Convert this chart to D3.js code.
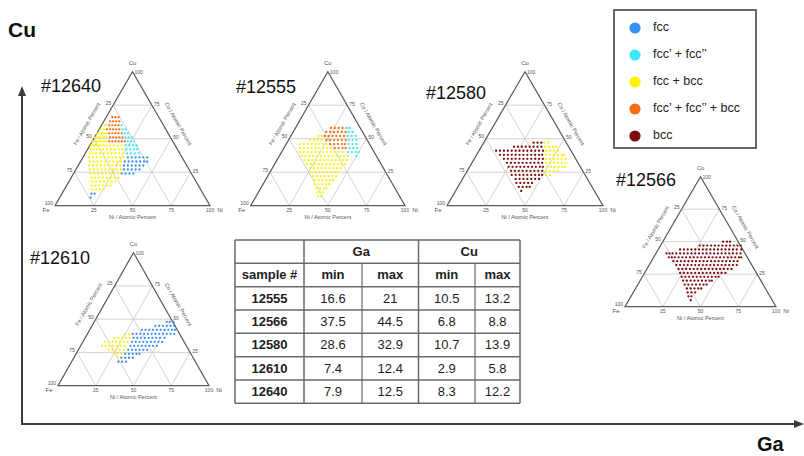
<!DOCTYPE html>
<html><head><meta charset="utf-8">
<script src="https://cdn.jsdelivr.net/npm/d3@7"></script>
<style>body{margin:0;background:#fff;} svg{display:block;font-family:"Liberation Sans",Arial,sans-serif;}</style>
</head><body><svg id="c" width="804" height="456"></svg>
<script>
// ---------------- data ----------------
const phaseNames = ["fcc", "fcc’ + fcc’’", "fcc + bcc", "fcc’ + fcc’’ + bcc", "bcc"];
const phaseColors = ["#3b8ff2", "#3ce6f4", "#fbf30c", "#fb6b14", "#7e0d0d"];

const tableSamples = ["12555", "12566", "12580", "12610", "12640"];
const gaMin = [16.6, 37.5, 28.6, 7.4, 7.9];
const gaMax = [21, 44.5, 32.9, 12.4, 12.5];
const cuMin = [10.5, 6.8, 10.7, 2.9, 8.3];
const cuMax = [13.2, 8.8, 13.9, 5.8, 12.2];

const ternaryTicks = [25, 50, 75, 100];

// dot rows: [phase index, Co %, [Ni % ...]]
const dots12640 = [
  [3, 66, [4, 6, 8]],
  [3, 63, [4, 6, 8, 10]],
  [2, 60, [2, 3]], [3, 60, [5, 7, 9, 11]], [1, 60, [13]],
  [2, 57, [1, 3]], [3, 57, [5, 7, 9, 11, 13]], [1, 57, [15, 17]],
  [2, 54, [0, 1.5, 3, 4.5, 6]], [3, 54, [8, 10, 12, 14, 16]], [1, 54, [18, 20]],
  [2, 51, [0, 1.5, 3, 4.5, 6, 7.5]], [3, 51, [10, 12, 14, 16, 18]], [1, 51, [20, 22, 24]],
  [2, 48, [0, 1.5, 3, 4.5, 6, 7.5, 9]], [3, 48, [11, 13, 15, 17, 19, 21]], [1, 48, [23, 25, 27]],
  [2, 45, [1, 2.5, 4, 5.5, 7, 9, 11, 13, 15.5, 18, 20.5]], [1, 45, [23, 25.5, 28, 30]],
  [2, 42, [2, 4, 6, 8, 10, 12.5, 15, 17.5, 20, 22.5]], [1, 42, [25, 27.5, 30, 32]],
  [2, 39, [3, 5, 7, 9.5, 12, 14.5, 17, 19.5, 22, 24.5]], [1, 39, [27, 29.5, 32, 34.5]],
  [2, 36, [4, 6.5, 9, 11.5, 14, 16.5, 19, 21.5, 24, 26.5]], [0, 36, [29, 31.5, 34, 36.5, 39, 41.5]],
  [2, 33, [6, 8.5, 11, 13.5, 16, 18.5, 21, 23.5, 26]], [0, 33, [28.5, 31, 33.5, 36, 38.5, 41, 43]],
  [2, 30, [7, 9.5, 12, 14.5, 17, 19.5, 22, 24.5, 27]], [0, 30, [29.5, 32, 34.5, 37, 39.5, 42]],
  [2, 27, [9, 11.5, 14, 16.5, 19, 21.5, 24, 26.5, 29]], [0, 27, [31, 33.5, 36, 38.5, 41]],
  [2, 24, [11, 13.5, 16, 18.5, 21, 23.5, 26, 28.5]], [0, 24, [31, 33.5, 36, 38.5]],
  [2, 21, [13, 15.5, 18, 20.5, 23, 25.5, 28, 30.5]],
  [2, 18, [15, 17.5, 20, 22.5, 25, 27.5, 30]],
  [2, 15, [16, 18.5, 21, 23.5, 26, 28.5]],
  [2, 12, [18, 20.5, 23, 25.5]],
  [0, 9, [19, 21]],
  [0, 6, [20]]
];

const dots12555 = [
  [3, 58, [23, 25.5, 28, 30.5]], [1, 58, [33, 35]],
  [3, 55, [21.5, 24, 26.5, 29, 31.5, 34]], [1, 55, [36, 38.5]],
  [2, 52, [18, 20]], [3, 52, [22, 24.5, 27, 29.5, 32, 34.5]], [1, 52, [37, 39.5, 42]],
  [2, 49, [14, 16.5, 19, 21.5]], [3, 49, [24.5, 27, 29.5, 32, 34.5, 37]], [1, 49, [39, 41.5, 44]],
  [2, 46, [9, 11.5, 14, 16.5, 19, 21.5, 24, 26]], [3, 46, [28.5, 31, 33.5, 36, 38]], [1, 46, [40.5, 43, 45.5]],
  [2, 43, [10.5, 13, 15.5, 18, 20.5, 23, 25.5, 28, 30.5]], [3, 43, [33, 35.5, 38, 40]], [1, 43, [42.5, 45, 47.5]],
  [2, 40, [12, 14.5, 17, 19.5, 22, 24.5, 27, 29.5, 32, 34.5, 37, 39.5]], [1, 40, [43, 45.5, 48, 50]],
  [2, 37, [14.5, 17, 19.5, 22, 24.5, 27, 29.5, 32, 34.5, 37, 39.5, 42, 44.5]], [1, 37, [50]],
  [2, 34, [18, 20.5, 23, 25.5, 28, 30.5, 33, 35.5, 38, 40.5, 43, 45]],
  [2, 31, [21, 23.5, 26, 28.5, 31, 33.5, 36, 38.5, 41, 43.5, 45.5]],
  [2, 28, [24.5, 27, 29.5, 32, 34.5, 37, 39.5, 42, 44.5]],
  [2, 25, [27, 29.5, 32, 34.5, 37, 39.5, 42, 44]],
  [2, 22, [29.5, 32, 34.5, 37, 39.5, 42, 44.5]],
  [2, 19, [32, 34.5, 37, 39.5, 42, 44]],
  [2, 16, [33.5, 36, 38.5, 41, 43]],
  [2, 13, [36, 38.5, 41, 42.5]],
  [2, 10, [38, 40, 42]],
  [2, 7, [40, 42]]
];

const dots12580 = [
  [4, 47, [32, 34.5, 37]], [2, 47, [39, 41.5]],
  [4, 44, [21, 23.5, 26, 28.5, 31, 33.5, 36, 38.5]], [2, 44, [41, 43.5, 46, 48]],
  [4, 41, [11, 13.5, 16, 18.5, 21, 23.5, 26, 28.5, 31, 33.5, 36, 38.5, 41]], [2, 41, [43, 45.5, 48, 50.5]],
  [4, 38, [15, 17.5, 20, 22.5, 25, 27.5, 30, 32.5, 35, 37.5, 40, 42]], [2, 38, [44.5, 47, 49.5, 52, 54.5, 56]],
  [4, 35, [19, 21.5, 24, 26.5, 29, 31.5, 34, 36.5, 39, 41.5, 44]], [2, 35, [46, 48.5, 51, 53.5, 56, 58.5]],
  [4, 32, [22.5, 25, 27.5, 30, 32.5, 35, 37.5, 40, 42.5, 45]], [2, 32, [47.5, 50, 52.5, 55, 57.5, 60]],
  [4, 29, [25, 27.5, 30, 32.5, 35, 37.5, 40, 42.5, 45, 47]], [2, 29, [49.5, 52, 54.5, 57, 59.5, 61]],
  [4, 26, [28, 30.5, 33, 35.5, 38, 40.5, 43, 45.5, 48]], [2, 26, [50.5, 53, 55.5, 58]],
  [4, 23, [30, 32.5, 35, 37.5, 40, 42.5, 45, 47.5, 49.5]], [2, 23, [52, 54.5]],
  [4, 20, [34, 36.5, 39, 41.5, 44, 46.5, 49]],
  [4, 17, [36, 38.5, 41, 43.5, 46]],
  [4, 14, [39, 41.5, 44, 46]],
  [4, 11, [42]]
];

const dots12566 = [
  [4, 50, [40, 42.5, 44.5]],
  [4, 47, [26, 28.5, 31, 33.5, 36, 38.5, 41, 43.5, 46, 48.5, 51, 53]],
  [4, 44, [14.5, 17, 19.5, 22, 24.5, 27, 29.5, 32, 34.5, 37, 39.5, 42, 44.5, 47, 49.5, 52, 55]],
  [4, 41, [7, 9, 11, 13.5, 16, 18.5, 21, 23.5, 26, 28.5, 31, 33.5, 36, 38.5, 41, 43.5, 46, 48.5, 51, 53.5, 56]],
  [4, 38, [10, 12, 14, 16.5, 19, 21.5, 24, 26.5, 29, 31.5, 34, 36.5, 39, 41.5, 44, 46.5, 49, 51.5, 54, 56.5, 58]],
  [4, 35, [14.5, 17, 19.5, 22, 24.5, 27, 29.5, 32, 34.5, 37, 39.5, 42, 44.5, 47, 49.5, 52, 54.5, 57]],
  [4, 32, [18, 20.5, 23, 25.5, 28, 30.5, 33, 35.5, 38, 40.5, 43, 45.5, 48, 50.5, 53, 55.5, 58]],
  [4, 29, [21, 23.5, 26, 28.5, 31, 33.5, 36, 38.5, 41, 43.5, 46, 48.5, 51, 53.5, 56]],
  [4, 26, [23.5, 26, 28.5, 31, 33.5, 36, 38.5, 41, 43.5, 46, 48.5, 51, 53.5]],
  [4, 23, [26, 28.5, 31, 33.5, 36, 38.5, 41, 43.5, 46, 48.5, 50.5]],
  [4, 20, [28.5, 31, 33.5, 36, 38.5, 41, 43.5, 46, 47.5]],
  [4, 17, [31, 33.5, 36, 38.5, 41, 43.5, 45.5]],
  [4, 14, [34, 36.5, 39, 41.5, 43.5]],
  [4, 11, [36, 38.5, 41]],
  [4, 8, [38, 40]],
  [4, 5, [41]]
];

const dots12610 = [
  [0, 48, [48, 50, 52.5]],
  [0, 45, [42, 44.5, 47, 49.5, 52, 54.5]],
  [0, 42, [34.5, 37, 39.5, 42, 44.5, 47, 49.5, 52, 54.5, 56.5]],
  [2, 39, [25, 27.5]], [0, 39, [30, 32.5, 35, 37.5, 40, 42.5, 45, 47.5, 50, 52.5, 55, 57.5]],
  [2, 36, [19.5, 22, 24.5, 27, 29.5]], [0, 36, [32, 34.5, 37, 39.5, 42, 44.5, 47, 49.5, 52.5]],
  [2, 33, [14.5, 17, 19.5, 22, 24.5, 27, 29.5]], [0, 33, [32.5, 35, 37.5, 40, 42.5, 45, 47.5, 50, 52.5]],
  [2, 30, [14, 16.5, 19, 21.5, 24, 26.5, 29]], [0, 30, [33, 35.5, 38, 40.5, 43, 45.5, 48, 50.5]],
  [2, 27, [20, 22.5, 25, 27.5, 30]], [0, 27, [33, 35.5, 38, 40.5, 43, 45.5]],
  [2, 24, [25, 27.5, 30]], [0, 24, [32.5, 35, 37.5, 40, 42]],
  [2, 21, [29]], [0, 21, [31.5, 34, 36.5, 39]],
  [0, 18, [31, 33.5, 36]]
];

// ---------------- layout ----------------
const panels = [
  { name: "#12640", dots: dots12640, bx: 55,    by: 205.7, w: 155,   h: 134, lx: 41,  ly: 91.5 },
  { name: "#12555", dots: dots12555, bx: 250.7, by: 205.7, w: 154.3, h: 134, lx: 236, ly: 93 },
  { name: "#12580", dots: dots12580, bx: 447,   by: 205.7, w: 156,   h: 134, lx: 426, ly: 99 },
  { name: "#12566", dots: dots12566, bx: 625,   by: 306.7, w: 151,   h: 130, lx: 616, ly: 186 },
  { name: "#12610", dots: dots12610, bx: 58,    by: 385.7, w: 151,   h: 133, lx: 30,  ly: 264 }
];

const svg = d3.select("#c");

// main axes
const axisColor = "#3c3c3c";
svg.append("line").attr("x1", 22).attr("y1", 425).attr("x2", 22).attr("y2", 94)
  .attr("stroke", axisColor).attr("stroke-width", 2);
svg.append("path").attr("d", "M22,86 L18,96 L26,96 Z").attr("fill", axisColor);
svg.append("line").attr("x1", 21).attr("y1", 424).attr("x2", 796).attr("y2", 424)
  .attr("stroke", axisColor).attr("stroke-width", 2);
svg.append("path").attr("d", "M804,424 L794,420 L794,428 Z").attr("fill", axisColor);
svg.append("text").attr("x", 8).attr("y", 37).text("Cu")
  .attr("font-size", 21).attr("font-weight", "bold").attr("fill", "#111");
svg.append("text").attr("x", 757).attr("y", 451).text("Ga")
  .attr("font-size", 20).attr("font-weight", "bold").attr("fill", "#111");

// ternary panels
panels.forEach(p => {
  const xs = d3.scaleLinear().domain([0, 100]).range([p.bx, p.bx + p.w]);
  const ys = d3.scaleLinear().domain([0, 100]).range([p.by, p.by - p.h]);
  const pt = (ni, co) => [xs(ni + co / 2), ys(co)];
  const g = svg.append("g");
  const line = d3.line();

  // grid
  const grid = [];
  [25, 50, 75].forEach(v => {
    grid.push([pt(0, v), pt(100 - v, v)]);
    grid.push([pt(v, 0), pt(v, 100 - v)]);
    grid.push([pt(100 - v, 0), pt(0, 100 - v)]);
  });
  g.selectAll("path.grid").data(grid).join("path").attr("class", "grid")
    .attr("d", d => line(d)).attr("stroke", "#c8c8c8").attr("stroke-width", 0.8).attr("fill", "none");

  // outline
  g.append("path").attr("d", line([pt(0, 0), pt(100, 0), pt(0, 100)]) + "Z")
    .attr("fill", "none").attr("stroke", "#5a5a5a").attr("stroke-width", 1.2);

  // dots
  const pts = [];
  p.dots.forEach(([ph, co, nis]) => nis.forEach(ni => pts.push({ ph, co, ni })));
  g.selectAll("circle.dot").data(pts).join("circle").attr("class", "dot")
    .attr("cx", d => pt(d.ni, d.co)[0]).attr("cy", d => pt(d.ni, d.co)[1])
    .attr("r", 1.15).attr("fill", d => phaseColors[d.ph]);

  const txt = (x, y, s, anchor, size, rot) => {
    const t = g.append("text").attr("x", x).attr("y", y).text(s)
      .attr("text-anchor", anchor || "middle").attr("font-size", size || 5).attr("fill", "#555")
      .attr("dominant-baseline", "middle");
    if (rot) t.attr("transform", `rotate(${rot},${x},${y})`);
    return t;
  };
  // bottom ticks (Ni)
  ternaryTicks.forEach(v => { const q = pt(v, 0); txt(q[0], q[1] + 4.5, String(v)); });
  // left ticks (Fe)
  ternaryTicks.forEach(v => { const q = pt(0, 100 - v); txt(q[0] - 2, q[1] - 2, String(v), "end"); });
  // right ticks (Co)
  ternaryTicks.forEach(v => { const q = pt(100 - v, v); txt(q[0] + 2, q[1] + (v === 100 ? 1 : -1), String(v), "start"); });
  // vertex labels
  const apex = pt(0, 100), bl = pt(0, 0), br = pt(100, 0);
  txt(apex[0], apex[1] - 8, "Co", "middle", 6);
  txt(bl[0] - 9, bl[1] + 5, "Fe", "middle", 6);
  txt(br[0] + 10, br[1] + 4.5, "Ni", "middle", 6);
  // axis titles
  const lm = pt(0, 56);
  txt(lm[0] - 13 * 0.866, lm[1] - 13 * 0.5, "Fe / Atomic Percent", "middle", 5.5, -60);
  const rm = pt(44, 56);
  txt(rm[0] + 13 * 0.866, rm[1] - 13 * 0.5, "Co / Atomic Percent", "middle", 5.5, 60);
  txt(p.bx + p.w / 2, p.by + 11.5, "Ni / Atomic Percent", "middle", 5.5);

  // panel label
  svg.append("text").attr("x", p.lx).attr("y", p.ly).text(p.name)
    .attr("font-size", 18).attr("fill", "#111");
});

// legend
const lg = svg.append("g");
lg.append("rect").attr("x", 614).attr("y", 10).attr("width", 142).attr("height", 138)
  .attr("fill", "#fff").attr("stroke", "#444").attr("stroke-width", 1.6);
const legY = d3.scalePoint().domain(phaseNames).range([28, 136]);
lg.selectAll("circle").data(phaseNames).join("circle")
  .attr("cx", 635).attr("cy", d => legY(d)).attr("r", 5.6)
  .attr("fill", (d, i) => phaseColors[i]);
lg.selectAll("text").data(phaseNames).join("text")
  .attr("x", 653).attr("y", d => legY(d)).attr("dominant-baseline", "middle")
  .attr("font-size", 12.5).attr("fill", "#222").text(d => d);

// table
const colX = [235, 304, 362, 418.5, 475, 520];
const rowY = d3.scaleLinear().domain([0, 7]).range([240, 403.3]);
const tg = svg.append("g");
const bc = "#6a6a6a";
d3.range(8).forEach(r => {
  tg.append("line").attr("x1", colX[0]).attr("x2", colX[5]).attr("y1", rowY(r)).attr("y2", rowY(r))
    .attr("stroke", bc).attr("stroke-width", 1.5);
});
[0, 1, 3, 5].forEach(c => {
  tg.append("line").attr("x1", colX[c]).attr("x2", colX[c]).attr("y1", rowY(0)).attr("y2", rowY(7))
    .attr("stroke", bc).attr("stroke-width", 1.5);
});
[2, 4].forEach(c => {
  tg.append("line").attr("x1", colX[c]).attr("x2", colX[c]).attr("y1", rowY(1)).attr("y2", rowY(7))
    .attr("stroke", bc).attr("stroke-width", 1.2);
});
const cell = (c0, c1, r, s, bold) => tg.append("text")
  .attr("x", (colX[c0] + colX[c1]) / 2).attr("y", rowY(r + 0.5))
  .attr("text-anchor", "middle").attr("dominant-baseline", "central")
  .attr("font-size", 13).attr("font-weight", bold ? "bold" : "normal").attr("fill", "#1e1e1e").text(s);
cell(1, 3, 0, "Ga", true);
cell(3, 5, 0, "Cu", true);
cell(0, 1, 1, "sample #", true);
["min", "max", "min", "max"].forEach((s, i) => cell(i + 1, i + 2, 1, s, true));
tableSamples.forEach((s, i) => {
  cell(0, 1, i + 2, s, true);
  cell(1, 2, i + 2, String(gaMin[i]));
  cell(2, 3, i + 2, String(gaMax[i]));
  cell(3, 4, i + 2, String(cuMin[i]));
  cell(4, 5, i + 2, String(cuMax[i]));
});
</script>
</body></html>
